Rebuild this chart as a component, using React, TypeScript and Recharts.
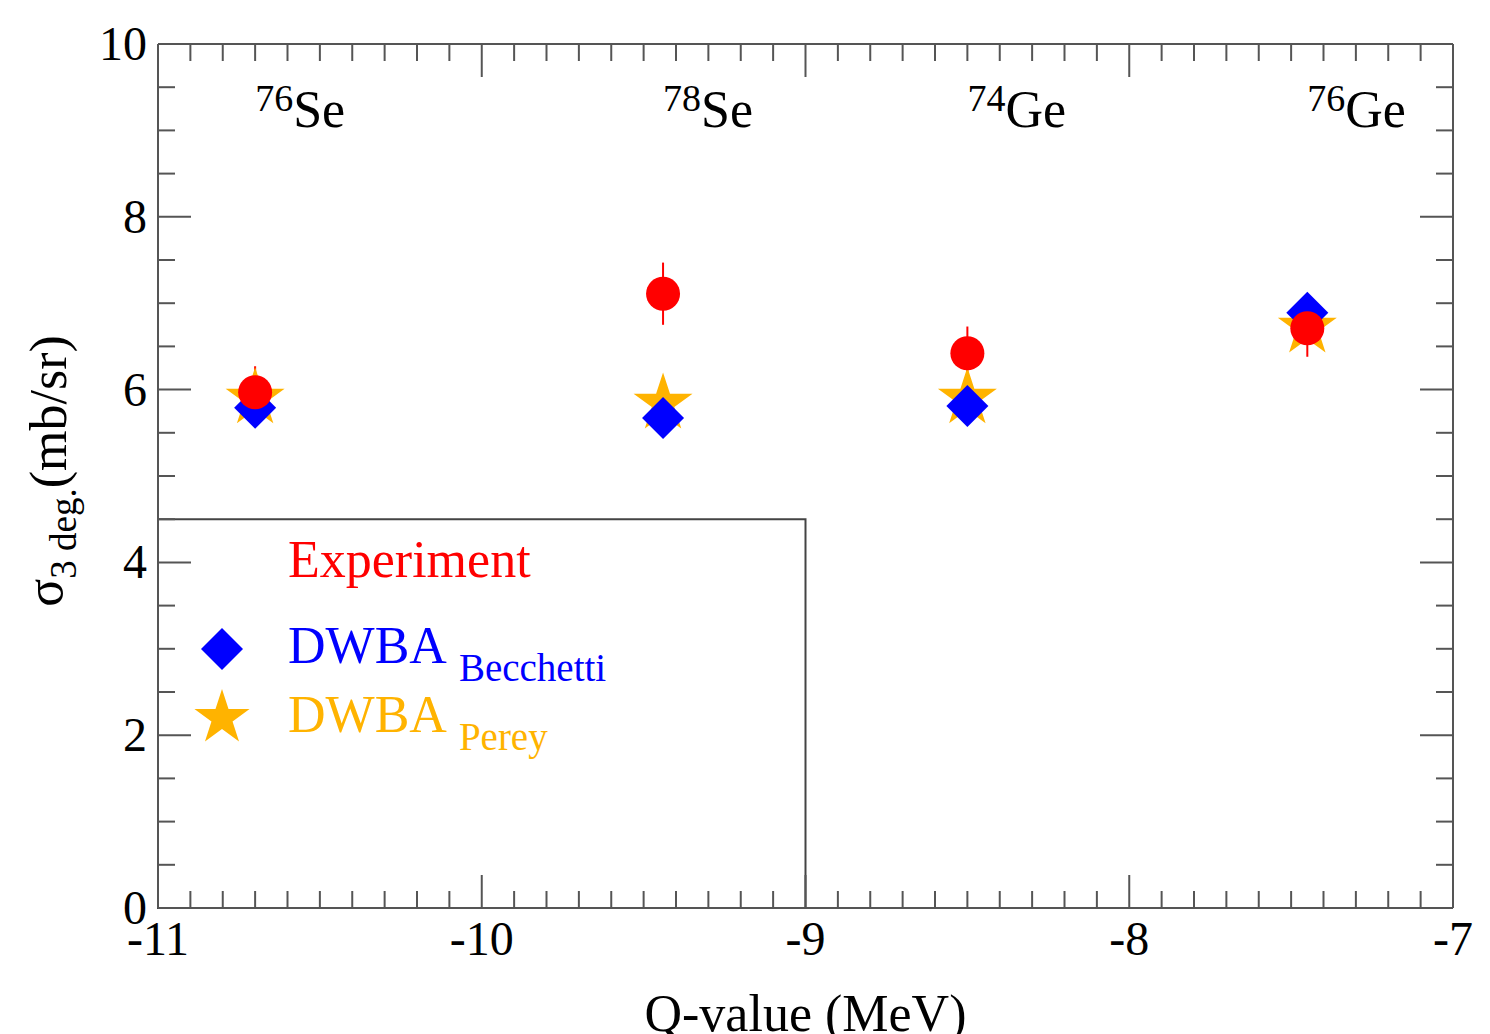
import React from "react";
import {
  ScatterChart,
  Scatter,
  XAxis,
  YAxis,
  ErrorBar,
  ReferenceArea,
  Legend,
} from "recharts";

const FONT = "Liberation Serif";
const AXIS_COLOR = "#555";
const RED = "#ff0000";
const BLUE = "#0000ff";
const ORANGE = "#ffb300";

// isotopes, in order of Q-value
const isotopeMass = ["76", "78", "74", "76"];
const isotopeElement = ["Se", "Se", "Ge", "Ge"];
const qValues = [-10.7, -9.44, -8.5, -7.45];

const experiment = [5.97, 7.11, 6.42, 6.71];
const experimentErr = [0.3, 0.36, 0.31, 0.33];
const becchetti = [5.79, 5.67, 5.81, 6.89];
const perey = [5.9, 5.84, 5.9, 6.72];

const labelHeight = 9.04;

const xMajorTicks = [-11, -10, -9, -8, -7];
const xMinorTicks = [
  -10.9, -10.8, -10.7, -10.6, -10.5, -10.4, -10.3, -10.2, -10.1,
  -9.9, -9.8, -9.7, -9.6, -9.5, -9.4, -9.3, -9.2, -9.1,
  -8.9, -8.8, -8.7, -8.6, -8.5, -8.4, -8.3, -8.2, -8.1,
  -7.9, -7.8, -7.7, -7.6, -7.5, -7.4, -7.3, -7.2, -7.1,
];
const yMajorTicks = [0, 2, 4, 6, 8, 10];
const yMinorTicks = [0.5, 1, 1.5, 2.5, 3, 3.5, 4.5, 5, 5.5, 6.5, 7, 7.5, 8.5, 9, 9.5];

// legend box corner (data units)
const legendBox = { x1: -11, x2: -9, y1: 0, y2: 4.5 };

const expData = qValues.map((q, i) => ({ q, y: experiment[i], err: experimentErr[i] }));
const becData = qValues.map((q, i) => ({ q, y: becchetti[i] }));
const perData = qValues.map((q, i) => ({ q, y: perey[i] }));
const labelData = qValues.map((q, i) => ({
  q,
  y: labelHeight,
  mass: isotopeMass[i],
  el: isotopeElement[i],
}));

const MAJOR = 33;
const MINOR = 17;

const starPath = (cx: number, cy: number, R: number) => {
  const r = R * 0.382;
  let d = "";
  for (let k = 0; k < 10; k++) {
    const rad = k % 2 === 0 ? R : r;
    const a = -Math.PI / 2 + (k * Math.PI) / 5;
    d += `${k === 0 ? "M" : "L"}${cx + rad * Math.cos(a)},${cy + rad * Math.sin(a)}`;
  }
  return d + "Z";
};

const diamondPath = (cx: number, cy: number, h: number) =>
  `M${cx},${cy - h}L${cx + h},${cy}L${cx},${cy + h}L${cx - h},${cy}Z`;

const Star = ({ cx, cy }: any) => <path d={starPath(cx, cy, 31)} fill={ORANGE} />;
const Diamond = ({ cx, cy }: any) => <path d={diamondPath(cx, cy, 21)} fill={BLUE} />;
const Dot = ({ cx, cy }: any) => <circle cx={cx} cy={cy} r={17} fill={RED} />;

const IsotopeLabel = ({ cx, cy, payload }: any) => (
  <text x={cx} y={cy} fontFamily={FONT} fontSize={52} fill="#000">
    <tspan fontSize={38} dy={-16}>
      {payload.mass}
    </tspan>
    <tspan dy={16}>{payload.el}</tspan>
  </text>
);

const BottomTick = ({ x, y, payload }: any) => {
  const major = xMajorTicks.includes(payload.value);
  return (
    <g>
      <line x1={x} y1={y} x2={x} y2={y - (major ? MAJOR : MINOR)} stroke={AXIS_COLOR} strokeWidth={2} />
      {major && (
        <text x={x} y={y + 47} textAnchor="middle" fontFamily={FONT} fontSize={48} fill="#000">
          {payload.value}
        </text>
      )}
    </g>
  );
};

const TopTick = ({ x, y, payload }: any) => {
  const major = xMajorTicks.includes(payload.value);
  return <line x1={x} y1={y} x2={x} y2={y + (major ? MAJOR : MINOR)} stroke={AXIS_COLOR} strokeWidth={2} />;
};

const LeftTick = ({ x, y, payload }: any) => {
  const major = yMajorTicks.includes(payload.value);
  return (
    <g>
      <line x1={x} y1={y} x2={x + (major ? MAJOR : MINOR)} y2={y} stroke={AXIS_COLOR} strokeWidth={2} />
      {major && (
        <text
          x={x - 11}
          y={y}
          dy={16}
          textAnchor="end"
          fontFamily={FONT}
          fontSize={48}
          fill="#000"
        >
          {payload.value}
        </text>
      )}
    </g>
  );
};

const RightTick = ({ x, y, payload }: any) => {
  const major = yMajorTicks.includes(payload.value);
  return <line x1={x} y1={y} x2={x - (major ? MAJOR : MINOR)} y2={y} stroke={AXIS_COLOR} strokeWidth={2} />;
};

const YLabel = ({ viewBox }: any) => {
  const cy = viewBox.y + viewBox.height / 2 - 5;
  const bx = 62;
  return (
    <text
      x={bx}
      y={cy}
      transform={`rotate(-90, ${bx}, ${cy})`}
      textAnchor="middle"
      fontFamily={FONT}
      fontSize={52}
      fill="#000"
    >
      σ
      <tspan fontSize={37} dy={14}>
        3 deg.
      </tspan>
      <tspan dy={-10}>(mb/sr)</tspan>
    </text>
  );
};

const XLabel = ({ viewBox }: any) => (
  <text
    x={viewBox.x + viewBox.width / 2}
    y={1031}
    textAnchor="middle"
    fontFamily={FONT}
    fontSize={52}
    fill="#000"
  >
    Q-value (MeV)
  </text>
);

const LegendContent = () => (
  <svg width={1490} height={1034} style={{ position: "absolute", left: 0, top: 0 }}>
    <text x={288} y={577} fontFamily={FONT} fontSize={52} fill={RED}>
      Experiment
    </text>
    <path d={diamondPath(222, 649, 21)} fill={BLUE} />
    <text x={288} y={663} fontFamily={FONT} fontSize={52} fill={BLUE}>
      DWBA
      <tspan fontSize={39} dx={12} dy={18}>
        Becchetti
      </tspan>
    </text>
    <path d={starPath(222, 718, 29)} fill={ORANGE} />
    <text x={288} y={732} fontFamily={FONT} fontSize={52} fill={ORANGE}>
      DWBA
      <tspan fontSize={39} dx={12} dy={18}>
        Perey
      </tspan>
    </text>
  </svg>
);

export default function App() {
  return (
    <div style={{ width: 1490, height: 1034, background: "#fff" }}>
      <style>{"body{margin:0}"}</style>
      <ScatterChart width={1490} height={1034} margin={{ top: 43, right: 36, bottom: 0, left: 0 }}>
        <XAxis
          xAxisId="main"
          type="number"
          dataKey="q"
          domain={[-11, -7]}
          ticks={[...xMajorTicks, ...xMinorTicks]}
          interval={0}
          tickSize={0}
          tickMargin={0}
          tickLine={false}
          tick={(p: any) => <BottomTick {...p} />}
          axisLine={{ stroke: AXIS_COLOR, strokeWidth: 2 }}
          height={126}
          allowDataOverflow
          label={{ content: XLabel }}
        />
        <XAxis
          xAxisId="top"
          orientation="top"
          type="number"
          dataKey="q"
          domain={[-11, -7]}
          ticks={[...xMajorTicks, ...xMinorTicks]}
          interval={0}
          tickSize={0}
          tickMargin={0}
          tickLine={false}
          tick={(p: any) => <TopTick {...p} />}
          axisLine={{ stroke: AXIS_COLOR, strokeWidth: 2 }}
          height={1}
          allowDataOverflow
        />
        <YAxis
          yAxisId="main"
          type="number"
          dataKey="y"
          domain={[0, 10]}
          ticks={[...yMajorTicks, ...yMinorTicks]}
          interval={0}
          tickSize={0}
          tickMargin={0}
          tickLine={false}
          tick={(p: any) => <LeftTick {...p} />}
          axisLine={{ stroke: AXIS_COLOR, strokeWidth: 2 }}
          width={158}
          allowDataOverflow
          label={{ content: YLabel }}
        />
        <YAxis
          yAxisId="right"
          orientation="right"
          type="number"
          dataKey="y"
          domain={[0, 10]}
          ticks={[...yMajorTicks, ...yMinorTicks]}
          interval={0}
          tickSize={0}
          tickMargin={0}
          tickLine={false}
          tick={(p: any) => <RightTick {...p} />}
          axisLine={{ stroke: AXIS_COLOR, strokeWidth: 2 }}
          width={1}
          allowDataOverflow
        />

        <ReferenceArea
          xAxisId="main"
          yAxisId="main"
          x1={legendBox.x1}
          x2={legendBox.x2}
          y1={legendBox.y1}
          y2={legendBox.y2}
          fill="none"
          fillOpacity={0}
          stroke="#444"
          strokeWidth={2}
        />

        <Scatter
          name="labels"
          xAxisId="main"
          yAxisId="main"
          data={labelData}
          shape={IsotopeLabel}
          isAnimationActive={false}
        />
        <Scatter
          name="DWBA Perey"
          xAxisId="main"
          yAxisId="main"
          data={perData}
          fill={ORANGE}
          shape={Star}
          isAnimationActive={false}
        />
        <Scatter
          name="DWBA Becchetti"
          xAxisId="main"
          yAxisId="main"
          data={becData}
          fill={BLUE}
          shape={Diamond}
          isAnimationActive={false}
        />
        <Scatter
          name="Experiment"
          xAxisId="main"
          yAxisId="main"
          data={expData}
          fill={RED}
          shape={Dot}
          isAnimationActive={false}
        >
          <ErrorBar dataKey="err" direction="y" width={0} stroke={RED} strokeWidth={2} isAnimationActive={false} />
        </Scatter>

        <Legend
          layout="horizontal"
          verticalAlign="middle"
          align="center"
          content={LegendContent}
          wrapperStyle={{ left: 0, top: 0, width: 1490, height: 1034, pointerEvents: "none" }}
        />
      </ScatterChart>
    </div>
  );
}
